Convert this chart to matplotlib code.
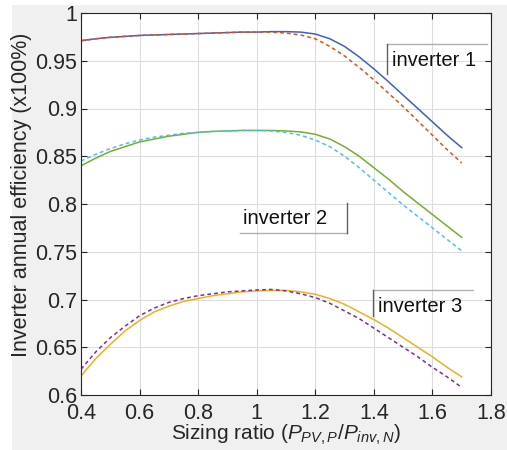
import matplotlib
matplotlib.use("Agg")
import matplotlib.pyplot as plt
from matplotlib.lines import Line2D
from matplotlib.patches import Rectangle

plt.rcParams['font.family'] = ['Liberation Sans', 'DejaVu Sans']
plt.rcParams['mathtext.fontset'] = 'custom'
plt.rcParams['mathtext.rm'] = 'Liberation Sans'
plt.rcParams['mathtext.it'] = 'Liberation Sans:italic'

ratio = [0.4, 0.45, 0.5, 0.55, 0.6, 0.65, 0.7, 0.75, 0.8, 0.85, 0.9, 0.95, 1.0,
         1.05, 1.1, 1.15, 1.2, 1.25, 1.3, 1.35, 1.4, 1.45, 1.5, 1.55, 1.6, 1.65, 1.7]

inv1_solid = [0.971, 0.973, 0.9745, 0.9755, 0.9765, 0.977, 0.9775, 0.978, 0.9785, 0.979,
              0.9795, 0.980, 0.980, 0.9805, 0.9805, 0.980, 0.978, 0.973, 0.965, 0.954,
              0.9415, 0.928, 0.914, 0.900, 0.886, 0.872, 0.859]
inv1_dash = [0.971, 0.973, 0.9745, 0.9755, 0.9765, 0.977, 0.9775, 0.978, 0.9785, 0.979,
             0.9795, 0.980, 0.980, 0.980, 0.979, 0.977, 0.973, 0.965, 0.955, 0.943,
             0.930, 0.916, 0.902, 0.887, 0.872, 0.857, 0.843]
inv2_solid = [0.840, 0.848, 0.855, 0.860, 0.865, 0.868, 0.871, 0.873, 0.875, 0.876,
              0.8765, 0.877, 0.877, 0.877, 0.8765, 0.8755, 0.873, 0.868, 0.860, 0.850,
              0.838, 0.826, 0.813, 0.801, 0.789, 0.777, 0.765]
inv2_dash = [0.845, 0.852, 0.858, 0.863, 0.867, 0.870, 0.872, 0.874, 0.875, 0.876,
             0.8765, 0.877, 0.877, 0.8765, 0.875, 0.872, 0.867, 0.860, 0.850, 0.838,
             0.825, 0.812, 0.799, 0.787, 0.775, 0.763, 0.751]
inv3_solid = [0.620, 0.638, 0.653, 0.667, 0.678, 0.687, 0.693, 0.698, 0.701, 0.704,
              0.706, 0.708, 0.709, 0.7095, 0.7095, 0.708, 0.7055, 0.701, 0.695, 0.687,
              0.679, 0.670, 0.660, 0.650, 0.640, 0.629, 0.619]
inv3_dash = [0.627, 0.645, 0.660, 0.672, 0.683, 0.691, 0.697, 0.701, 0.704, 0.706,
             0.708, 0.709, 0.710, 0.7105, 0.709, 0.706, 0.702, 0.696, 0.688, 0.680,
             0.670, 0.660, 0.650, 0.640, 0.629, 0.619, 0.608]

xticks = [0.4, 0.6, 0.8, 1.0, 1.2, 1.4, 1.6, 1.8]
xticklabels = ['0.4', '0.6', '0.8', '1', '1.2', '1.4', '1.6', '1.8']
yticks = [0.6, 0.65, 0.7, 0.75, 0.8, 0.85, 0.9, 0.95, 1.0]
yticklabels = ['0.6', '0.65', '0.7', '0.75', '0.8', '0.85', '0.9', '0.95', '1']
labels = ['inverter 1', 'inverter 2', 'inverter 3']

W, H = 507, 450
fig = plt.figure(figsize=(W / 100, H / 100), dpi=100)
fig.patch.set_facecolor('white')
fig.patches.append(Rectangle((12 / W, 0), 1 - 12 / W, 1 - 5 / H, transform=fig.transFigure,
                             facecolor='#f0f0f0', edgecolor='none', zorder=-10))

ax = fig.add_axes([81 / W, 1 - 395 / H, (491 - 81) / W, (395 - 13) / H])
ax.set_facecolor('white')

lw = 1.1
ax.plot(ratio, inv1_solid, color='#4060c0', lw=lw)
ax.plot(ratio, inv1_dash, color='#d95319', lw=lw, ls=(0, (2.5, 2)))
ax.plot(ratio, inv2_solid, color='#77ac30', lw=lw)
ax.plot(ratio, inv2_dash, color='#4dbeee', lw=lw, ls=(0, (2.5, 2)))
ax.plot(ratio, inv3_solid, color='#edb120', lw=lw)
ax.plot(ratio, inv3_dash, color='#7e2f8e', lw=lw, ls=(0, (2.5, 2)))

ax.set_xlim(0.4, 1.8)
ax.set_ylim(0.6, 1.0)
ax.set_xticks(xticks)
ax.set_xticklabels(xticklabels)
ax.set_yticks(yticks)
ax.set_yticklabels(yticklabels)
ax.grid(True, color='#dcdcdc', lw=0.8)
ax.set_axisbelow(True)
ax.tick_params(direction='in', length=4, width=0.8, colors='#262626',
               labelsize=15.5, top=True, right=True, pad=3)
ax.tick_params(axis='x', pad=6)
for s in ax.spines.values():
    s.set_color('#262626')
    s.set_linewidth(0.8)

ax.set_xlabel('Sizing ratio ($P_{PV,P}/P_{inv,N}$)', fontsize=15, color='#262626', labelpad=-1)
ax.set_ylabel('Inverter annual efficiency (x100%)', fontsize=15.5, color='#262626', labelpad=0)
ax.yaxis.set_label_coords(-0.12, 0.524)

def px(x, y):
    return x / W, 1 - y / H

dark = '#606060'
light = '#b0b0b0'
# inverter 1 box: top & left edges
fig.add_artist(Line2D(*zip(px(387, 44), px(487, 44)), transform=fig.transFigure, color=light, lw=1))
fig.add_artist(Line2D(*zip(px(387, 44), px(387, 74)), transform=fig.transFigure, color=dark, lw=1))
fig.text(*px(392, 60), labels[0], fontsize=14.5, va='center', ha='left', color='#111111')
# inverter 2 box: bottom & right edges
fig.add_artist(Line2D(*zip(px(240, 233), px(347, 233)), transform=fig.transFigure, color=light, lw=1))
fig.add_artist(Line2D(*zip(px(347, 203), px(347, 233)), transform=fig.transFigure, color=dark, lw=1))
fig.text(*px(243, 218), labels[1], fontsize=14.5, va='center', ha='left', color='#111111')
# inverter 3 box: top & left edges
fig.add_artist(Line2D(*zip(px(373, 290), px(473, 290)), transform=fig.transFigure, color=light, lw=1))
fig.add_artist(Line2D(*zip(px(373, 290), px(373, 316)), transform=fig.transFigure, color=dark, lw=1))
fig.text(*px(378, 307), labels[2], fontsize=14.5, va='center', ha='left', color='#111111')

fig.savefig('out.png', dpi=100)
